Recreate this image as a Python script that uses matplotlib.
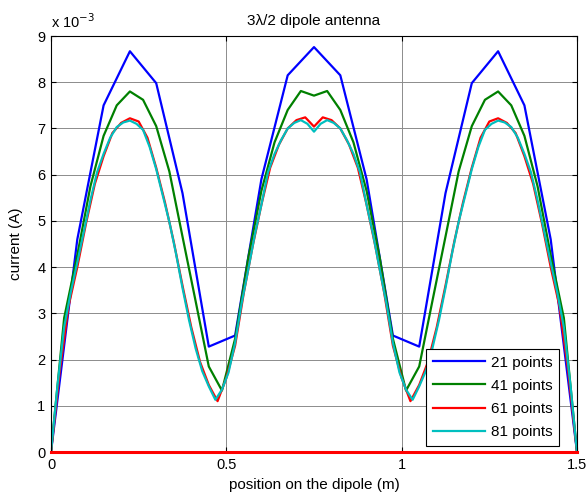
import numpy as np
import matplotlib
matplotlib.use("Agg")
import matplotlib.pyplot as plt
from matplotlib.ticker import FuncFormatter

plt.rcParams['font.family'] = ['Liberation Sans', 'DejaVu Sans']
plt.rcParams['font.size'] = 10

# Current magnitude along the 3λ/2 dipole, in units of 1e-3 A
i21 = [0, 4.6, 7.5, 8.67, 7.98, 5.6, 2.28, 2.52, 5.9, 8.15, 8.76,
       8.15, 5.9, 2.52, 2.28, 5.6, 7.98, 8.67, 7.5, 4.6, 0]

i41 = [0, 2.9, 4.26, 5.75, 6.84, 7.5, 7.8, 7.62, 7.05, 6.07, 4.66,
       3.26, 1.85, 1.33, 2.45, 4.2, 5.65, 6.7, 7.4, 7.81, 7.71,
       7.81, 7.4, 6.7, 5.65, 4.2, 2.45, 1.33, 1.85, 3.26, 4.66,
       6.07, 7.05, 7.62, 7.8, 7.5, 6.84, 5.75, 4.26, 2.9, 0]

i61 = [0, 1.75, 3.15, 4.0, 4.95, 5.8, 6.4, 6.9, 7.12, 7.22, 7.15,
       6.8, 6.15, 5.4, 4.55, 3.6, 2.7, 1.95, 1.45, 1.1, 1.6,
       2.3, 3.45, 4.45, 5.35, 6.15, 6.65, 7.0, 7.18, 7.24, 7.04,
       7.24, 7.18, 7.0, 6.65, 6.15, 5.35, 4.45, 3.45, 2.3, 1.6,
       1.1, 1.45, 1.95, 2.7, 3.6, 4.55, 5.4, 6.15, 6.8, 7.15,
       7.22, 7.12, 6.9, 6.4, 5.8, 4.95, 4.0, 3.15, 1.75, 0]

i81 = [0, 1.45, 2.7, 3.45, 4.1, 4.77, 5.45, 6.05, 6.45, 6.8, 7.03,
       7.13, 7.17, 7.1, 6.97, 6.6, 6.12, 5.55, 4.98, 4.3, 3.55,
       2.85, 2.24, 1.75, 1.42, 1.13, 1.35, 1.72, 2.36, 3.22, 3.95,
       4.7, 5.35, 6.05, 6.45, 6.75, 7.0, 7.12, 7.18, 7.1, 6.93,
       7.1, 7.18, 7.12, 7.0, 6.75, 6.45, 6.05, 5.35, 4.7, 3.95,
       3.22, 2.36, 1.72, 1.35, 1.13, 1.42, 1.75, 2.24, 2.85, 3.55,
       4.3, 4.98, 5.55, 6.12, 6.6, 6.97, 7.1, 7.17, 7.13, 7.03,
       6.8, 6.45, 6.05, 5.45, 4.77, 4.1, 3.45, 2.7, 1.45, 0]

zero_current = [0] * 61

labels = ['21 points', '41 points', '61 points', '81 points']
colors = ['#0000ff', '#008000', '#ff0000', '#00bfbf']
dipole_length = 1.5
scale = 1e-3

fig = plt.figure(figsize=(5.87, 4.99), dpi=100)
ax = fig.add_axes([51 / 587, 47 / 499, 526 / 587, 416 / 499])

series = [i21, i41, i61, i81]
for vals, lab, col in zip(series, labels, colors):
    x = np.linspace(0, dipole_length, len(vals))
    ax.plot(x, np.array(vals) * scale, color=col, lw=1.6, label=lab)

ax.plot(np.linspace(0, dipole_length, len(zero_current)),
        np.array(zero_current) * scale, color='#ff0000', lw=2.2,
        clip_on=False, zorder=5)

ax.set_xlim(0, dipole_length)
ax.set_ylim(0, 9 * scale)
ax.set_xticks([0, 0.5, 1, 1.5])
ax.set_xticklabels(['0', '0.5', '1', '1.5'])
ax.set_yticks(np.arange(0, 10) * scale)
ax.yaxis.set_major_formatter(FuncFormatter(lambda v, p: f"{v / scale:.0f}"))

ax.grid(True, color='#8c8c8c', lw=0.7)
ax.set_axisbelow(True)
ax.tick_params(direction='in', top=True, right=True, length=3.5, width=0.8,
               labelsize=10.5, pad=4)
for s in ax.spines.values():
    s.set_linewidth(0.8)
    s.set_color('black')

ax.set_title('3λ/2 dipole antenna', fontsize=11, pad=8)
ax.set_xlabel('position on the dipole (m)', fontsize=11, labelpad=5)
ax.set_ylabel('current (A)', fontsize=11, labelpad=10)
ax.text(0.0, 1.019, r'x 10$^{-3}$', transform=ax.transAxes, fontsize=10.5,
        ha='left', va='baseline')

leg = ax.legend(loc='lower right', bbox_to_anchor=(0.9658, 0.0144),
                borderaxespad=0, fancybox=False, framealpha=1,
                edgecolor='black', handlelength=3.4, handletextpad=0.35,
                labelspacing=0.6, fontsize=11, borderpad=0.45)
leg.get_frame().set_linewidth(0.8)

fig.savefig('out.png', dpi=100, facecolor='white')
